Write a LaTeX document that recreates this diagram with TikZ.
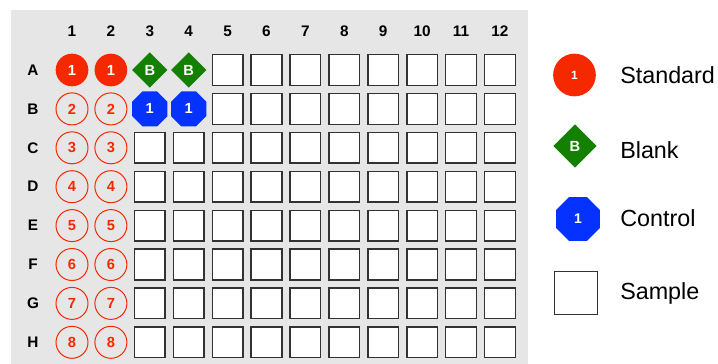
\documentclass[tikz,border=0pt]{standalone}
\usepackage{fontspec}
\setmainfont{Liberation Sans}
\usetikzlibrary{shapes.geometric}
\definecolor{stdred}{RGB}{245,40,0}
\definecolor{blkgreen}{RGB}{20,128,0}
\definecolor{ctrlblue}{RGB}{5,50,255}
\definecolor{platebg}{RGB}{230,230,230}
\definecolor{wellgray}{RGB}{50,50,50}
\newcommand{\wfont}[1]{\bfseries\fontsize{#1}{#1}\selectfont}
\tikzset{
  hdr/.style={font=\wfont{11.5}},
  smp/.style={draw=wellgray,fill=white,line width=1.1pt,minimum size=23pt,inner sep=0pt},
  stdf/.style={circle,fill=stdred,text=white,minimum size=24.5pt,inner sep=0pt,font=\wfont{11}},
  stdo/.style={circle,draw=stdred,line width=0.75pt,text=stdred,minimum size=24pt,inner sep=0pt,font=\wfont{11}},
  blk/.style={diamond,fill=blkgreen,text=white,minimum size=26.5pt,inner sep=0pt,font=\wfont{11}},
  ctrl/.style={regular polygon,regular polygon sides=8,fill=ctrlblue,text=white,minimum size=28.5pt,inner sep=0pt,font=\wfont{11}},
  lab/.style={anchor=west,inner sep=0pt,font=\fontsize{17.5}{20}\selectfont},
  every picture/.style={x=0.75pt,y=-0.75pt}
}

\begin{document}
\begin{tikzpicture}
  \useasboundingbox (0,0) rectangle (718,364);
  \fill[platebg] (11,10) rectangle (528,364);
  % plate headers
  \foreach \c in {1,...,12}
    \node[hdr] (col\c) at ({72+(\c-1)*38.9},31) {\c};
  \foreach \r [count=\i] in {A,B,C,D,E,F,G,H} {
    \node[hdr] (row\r) at (33,{70+(\i-1)*38.9}) {\r};
    \foreach \c in {5,...,12}
      \node[smp] (\r\c) at ({72+(\c-1)*38.9},{70+(\i-1)*38.9}) {};
  }
  % standards, blanks, controls
  \node[stdf] (A1) at (72,70) {1}; \node[stdf] (A2) at (110.9,70) {1};
  \foreach \r/\i in {B/2,C/3,D/4,E/5,F/6,G/7,H/8} {
    \node[stdo] (\r1) at (72,{70+(\i-1)*38.9}) {\i};
    \node[stdo] (\r2) at (110.9,{70+(\i-1)*38.9}) {\i};
  }
  \node[blk] (A3) at (149.8,70) {B}; \node[blk] (A4) at (188.7,70) {B};
  \node[ctrl] (B3) at (149.8,108.9) {1}; \node[ctrl] (B4) at (188.7,108.9) {1};
  \foreach \r/\i in {C/3,D/4,E/5,F/6,G/7,H/8} {
    \node[smp] (\r3) at (149.8,{70+(\i-1)*38.9}) {};
    \node[smp] (\r4) at (188.7,{70+(\i-1)*38.9}) {};
  }
  % legend
  \node[stdf,minimum size=32pt,font=\wfont{9}] (keystd) at (574.5,75) {1};
  \node[blk,minimum size=32.5pt] (keyblk) at (575,146) {B};
  \node[ctrl,minimum size=35.5pt,font=\wfont{10.5}] (keyctrl) at (578,219) {1};
  \node[smp,minimum size=32.5pt] (keysmp) at (576,293) {};
  \node[lab] (txtstd) at (620,75) {Standard};
  \node[lab] (txtblk) at (620,150) {Blank};
  \node[lab] (txtctrl) at (620,218) {Control};
  \node[lab] (txtsmp) at (620,293) {Sample};
\end{tikzpicture}
\end{document}
